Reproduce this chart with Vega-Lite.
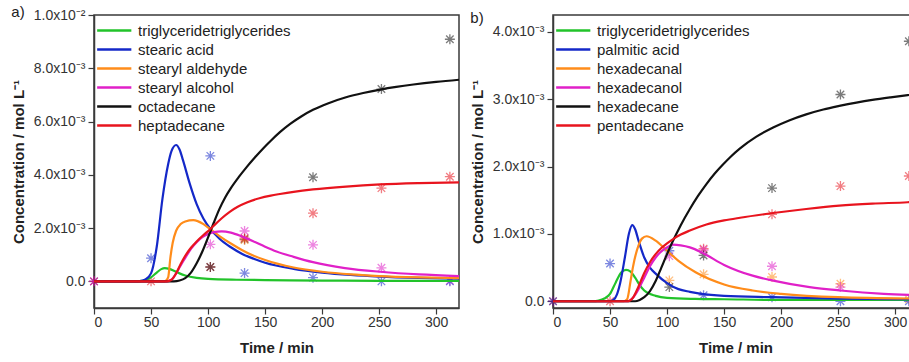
{
  "$schema": "https://vega.github.io/schema/vega-lite/v6.json",
  "padding": {"left": 10, "top": 4, "right": 0, "bottom": 0},
  "background": "white",
  "config": {
    "font": "Liberation Sans",
    "view": {"stroke": "#3a3a3a", "strokeWidth": 1.5},
    "axis": {
      "grid": false,
      "domainColor": "#3a3a3a",
      "domainWidth": 1.5,
      "tickColor": "#3a3a3a",
      "tickWidth": 1.2,
      "labelFont": "Liberation Sans",
      "titleFont": "Liberation Sans",
      "labelFontSize": 14,
      "labelColor": "#333333",
      "labelPadding": 3,
      "titleFontSize": 15,
      "titleFontWeight": "bold",
      "titleColor": "#222222"
    },
    "title": {"font": "Liberation Sans", "fontSize": 15, "fontWeight": "normal", "color": "#222222"}
  },
  "datasets": {
    "curvesA": [
      {"series": "triglyceridetriglycerides", "t": 0, "c": 0},
      {"series": "triglyceridetriglycerides", "t": 30, "c": 0},
      {"series": "triglyceridetriglycerides", "t": 40, "c": 1e-5},
      {"series": "triglyceridetriglycerides", "t": 45, "c": 5e-5},
      {"series": "triglyceridetriglycerides", "t": 50, "c": 1.5e-4},
      {"series": "triglyceridetriglycerides", "t": 55, "c": 3.3e-4},
      {"series": "triglyceridetriglycerides", "t": 59, "c": 4.6e-4},
      {"series": "triglyceridetriglycerides", "t": 62, "c": 5.0e-4},
      {"series": "triglyceridetriglycerides", "t": 66, "c": 4.7e-4},
      {"series": "triglyceridetriglycerides", "t": 70, "c": 4.0e-4},
      {"series": "triglyceridetriglycerides", "t": 75, "c": 3.0e-4},
      {"series": "triglyceridetriglycerides", "t": 80, "c": 2.2e-4},
      {"series": "triglyceridetriglycerides", "t": 90, "c": 1.3e-4},
      {"series": "triglyceridetriglycerides", "t": 100, "c": 9e-5},
      {"series": "triglyceridetriglycerides", "t": 125, "c": 6e-5},
      {"series": "triglyceridetriglycerides", "t": 150, "c": 5e-5},
      {"series": "triglyceridetriglycerides", "t": 200, "c": 3e-5},
      {"series": "triglyceridetriglycerides", "t": 250, "c": 2e-5},
      {"series": "triglyceridetriglycerides", "t": 320, "c": 2e-5},

      {"series": "stearic acid", "t": 0, "c": 0},
      {"series": "stearic acid", "t": 35, "c": 0},
      {"series": "stearic acid", "t": 40, "c": 1e-5},
      {"series": "stearic acid", "t": 45, "c": 7e-5},
      {"series": "stearic acid", "t": 50, "c": 3.0e-4},
      {"series": "stearic acid", "t": 55, "c": 1.3e-3},
      {"series": "stearic acid", "t": 60, "c": 3.1e-3},
      {"series": "stearic acid", "t": 65, "c": 4.4e-3},
      {"series": "stearic acid", "t": 68, "c": 4.9e-3},
      {"series": "stearic acid", "t": 72, "c": 5.12e-3},
      {"series": "stearic acid", "t": 75, "c": 4.95e-3},
      {"series": "stearic acid", "t": 78, "c": 4.55e-3},
      {"series": "stearic acid", "t": 84, "c": 3.66e-3},
      {"series": "stearic acid", "t": 90, "c": 2.9e-3},
      {"series": "stearic acid", "t": 96, "c": 2.35e-3},
      {"series": "stearic acid", "t": 102, "c": 1.97e-3},
      {"series": "stearic acid", "t": 110, "c": 1.6e-3},
      {"series": "stearic acid", "t": 120, "c": 1.28e-3},
      {"series": "stearic acid", "t": 130, "c": 1.03e-3},
      {"series": "stearic acid", "t": 140, "c": 8.5e-4},
      {"series": "stearic acid", "t": 150, "c": 7.0e-4},
      {"series": "stearic acid", "t": 175, "c": 4.7e-4},
      {"series": "stearic acid", "t": 200, "c": 3.3e-4},
      {"series": "stearic acid", "t": 225, "c": 2.4e-4},
      {"series": "stearic acid", "t": 250, "c": 1.8e-4},
      {"series": "stearic acid", "t": 285, "c": 1.3e-4},
      {"series": "stearic acid", "t": 320, "c": 1.0e-4},

      {"series": "stearyl aldehyde", "t": 0, "c": 0},
      {"series": "stearyl aldehyde", "t": 62, "c": 0},
      {"series": "stearyl aldehyde", "t": 65, "c": 1.5e-4},
      {"series": "stearyl aldehyde", "t": 67, "c": 9e-4},
      {"series": "stearyl aldehyde", "t": 69, "c": 1.45e-3},
      {"series": "stearyl aldehyde", "t": 72, "c": 1.9e-3},
      {"series": "stearyl aldehyde", "t": 76, "c": 2.15e-3},
      {"series": "stearyl aldehyde", "t": 80, "c": 2.25e-3},
      {"series": "stearyl aldehyde", "t": 87, "c": 2.3e-3},
      {"series": "stearyl aldehyde", "t": 96, "c": 2.15e-3},
      {"series": "stearyl aldehyde", "t": 103, "c": 1.92e-3},
      {"series": "stearyl aldehyde", "t": 110, "c": 1.7e-3},
      {"series": "stearyl aldehyde", "t": 120, "c": 1.42e-3},
      {"series": "stearyl aldehyde", "t": 130, "c": 1.17e-3},
      {"series": "stearyl aldehyde", "t": 140, "c": 9.6e-4},
      {"series": "stearyl aldehyde", "t": 150, "c": 8.0e-4},
      {"series": "stearyl aldehyde", "t": 175, "c": 5.2e-4},
      {"series": "stearyl aldehyde", "t": 200, "c": 3.6e-4},
      {"series": "stearyl aldehyde", "t": 225, "c": 2.6e-4},
      {"series": "stearyl aldehyde", "t": 250, "c": 2.0e-4},
      {"series": "stearyl aldehyde", "t": 285, "c": 1.5e-4},
      {"series": "stearyl aldehyde", "t": 320, "c": 1.2e-4},

      {"series": "stearyl alcohol", "t": 0, "c": 0},
      {"series": "stearyl alcohol", "t": 64, "c": 0},
      {"series": "stearyl alcohol", "t": 68, "c": 6e-5},
      {"series": "stearyl alcohol", "t": 72, "c": 3.0e-4},
      {"series": "stearyl alcohol", "t": 76, "c": 6.0e-4},
      {"series": "stearyl alcohol", "t": 80, "c": 8.8e-4},
      {"series": "stearyl alcohol", "t": 85, "c": 1.22e-3},
      {"series": "stearyl alcohol", "t": 90, "c": 1.47e-3},
      {"series": "stearyl alcohol", "t": 95, "c": 1.66e-3},
      {"series": "stearyl alcohol", "t": 100, "c": 1.78e-3},
      {"series": "stearyl alcohol", "t": 105, "c": 1.85e-3},
      {"series": "stearyl alcohol", "t": 112, "c": 1.88e-3},
      {"series": "stearyl alcohol", "t": 120, "c": 1.83e-3},
      {"series": "stearyl alcohol", "t": 130, "c": 1.68e-3},
      {"series": "stearyl alcohol", "t": 140, "c": 1.5e-3},
      {"series": "stearyl alcohol", "t": 150, "c": 1.3e-3},
      {"series": "stearyl alcohol", "t": 160, "c": 1.12e-3},
      {"series": "stearyl alcohol", "t": 175, "c": 9.2e-4},
      {"series": "stearyl alcohol", "t": 192, "c": 7.2e-4},
      {"series": "stearyl alcohol", "t": 220, "c": 5.0e-4},
      {"series": "stearyl alcohol", "t": 251, "c": 3.6e-4},
      {"series": "stearyl alcohol", "t": 285, "c": 2.6e-4},
      {"series": "stearyl alcohol", "t": 320, "c": 2.0e-4},

      {"series": "octadecane", "t": 0, "c": 0},
      {"series": "octadecane", "t": 70, "c": 0},
      {"series": "octadecane", "t": 75, "c": 3e-5},
      {"series": "octadecane", "t": 80, "c": 1.2e-4},
      {"series": "octadecane", "t": 85, "c": 3.3e-4},
      {"series": "octadecane", "t": 90, "c": 6.8e-4},
      {"series": "octadecane", "t": 95, "c": 1.12e-3},
      {"series": "octadecane", "t": 100, "c": 1.65e-3},
      {"series": "octadecane", "t": 105, "c": 2.2e-3},
      {"series": "octadecane", "t": 110, "c": 2.72e-3},
      {"series": "octadecane", "t": 115, "c": 3.15e-3},
      {"series": "octadecane", "t": 120, "c": 3.5e-3},
      {"series": "octadecane", "t": 127, "c": 3.92e-3},
      {"series": "octadecane", "t": 134, "c": 4.3e-3},
      {"series": "octadecane", "t": 141, "c": 4.65e-3},
      {"series": "octadecane", "t": 148.5, "c": 5.0e-3},
      {"series": "octadecane", "t": 155, "c": 5.28e-3},
      {"series": "octadecane", "t": 163, "c": 5.6e-3},
      {"series": "octadecane", "t": 172, "c": 5.91e-3},
      {"series": "octadecane", "t": 182, "c": 6.2e-3},
      {"series": "octadecane", "t": 192, "c": 6.44e-3},
      {"series": "octadecane", "t": 205, "c": 6.68e-3},
      {"series": "octadecane", "t": 221, "c": 6.91e-3},
      {"series": "octadecane", "t": 236, "c": 7.07e-3},
      {"series": "octadecane", "t": 251, "c": 7.2e-3},
      {"series": "octadecane", "t": 265, "c": 7.3e-3},
      {"series": "octadecane", "t": 280, "c": 7.39e-3},
      {"series": "octadecane", "t": 300, "c": 7.49e-3},
      {"series": "octadecane", "t": 320, "c": 7.57e-3},

      {"series": "heptadecane", "t": 0, "c": 0},
      {"series": "heptadecane", "t": 64, "c": 0},
      {"series": "heptadecane", "t": 68, "c": 6e-5},
      {"series": "heptadecane", "t": 72, "c": 3.0e-4},
      {"series": "heptadecane", "t": 76, "c": 6.5e-4},
      {"series": "heptadecane", "t": 80, "c": 9.6e-4},
      {"series": "heptadecane", "t": 85, "c": 1.26e-3},
      {"series": "heptadecane", "t": 90, "c": 1.5e-3},
      {"series": "heptadecane", "t": 96, "c": 1.74e-3},
      {"series": "heptadecane", "t": 102, "c": 1.96e-3},
      {"series": "heptadecane", "t": 106, "c": 2.13e-3},
      {"series": "heptadecane", "t": 112, "c": 2.37e-3},
      {"series": "heptadecane", "t": 119, "c": 2.61e-3},
      {"series": "heptadecane", "t": 126, "c": 2.8e-3},
      {"series": "heptadecane", "t": 134, "c": 2.96e-3},
      {"series": "heptadecane", "t": 145, "c": 3.12e-3},
      {"series": "heptadecane", "t": 155, "c": 3.22e-3},
      {"series": "heptadecane", "t": 163, "c": 3.28e-3},
      {"series": "heptadecane", "t": 175, "c": 3.36e-3},
      {"series": "heptadecane", "t": 192, "c": 3.45e-3},
      {"series": "heptadecane", "t": 221, "c": 3.56e-3},
      {"series": "heptadecane", "t": 251, "c": 3.64e-3},
      {"series": "heptadecane", "t": 285, "c": 3.69e-3},
      {"series": "heptadecane", "t": 320, "c": 3.72e-3}
    ],
    "pointsA": [
      {"series": "stearic acid", "t": 0, "c": 0},
      {"series": "heptadecane", "t": 0, "c": 0},
      {"series": "stearyl alcohol", "t": 0, "c": 0},
      {"series": "stearic acid", "t": 50, "c": 8.7e-4},
      {"series": "heptadecane", "t": 50, "c": 0},
      {"series": "stearic acid", "t": 102, "c": 4.71e-3},
      {"series": "stearyl alcohol", "t": 102, "c": 1.39e-3},
      {"series": "heptadecane", "t": 102, "c": 5.4e-4},
      {"series": "octadecane", "t": 102, "c": 5.4e-4},
      {"series": "stearyl alcohol", "t": 132, "c": 1.89e-3},
      {"series": "octadecane", "t": 132, "c": 1.58e-3},
      {"series": "stearyl aldehyde", "t": 132, "c": 1.55e-3},
      {"series": "heptadecane", "t": 132, "c": 1.62e-3},
      {"series": "stearic acid", "t": 132, "c": 3.1e-4},
      {"series": "octadecane", "t": 192, "c": 3.91e-3},
      {"series": "heptadecane", "t": 192, "c": 2.56e-3},
      {"series": "stearyl alcohol", "t": 192, "c": 1.37e-3},
      {"series": "stearic acid", "t": 192, "c": 1.4e-4},
      {"series": "octadecane", "t": 252, "c": 7.22e-3},
      {"series": "heptadecane", "t": 252, "c": 3.5e-3},
      {"series": "stearyl alcohol", "t": 252, "c": 5.1e-4},
      {"series": "stearic acid", "t": 252, "c": 0},
      {"series": "octadecane", "t": 312, "c": 9.09e-3},
      {"series": "heptadecane", "t": 312, "c": 3.93e-3},
      {"series": "stearyl alcohol", "t": 312, "c": 2e-5},
      {"series": "stearic acid", "t": 312, "c": 0}
    ],
    "curvesB": [
      {"series": "triglyceridetriglycerides", "t": 0, "c": 0},
      {"series": "triglyceridetriglycerides", "t": 35, "c": 0},
      {"series": "triglyceridetriglycerides", "t": 40, "c": 1e-5},
      {"series": "triglyceridetriglycerides", "t": 45, "c": 4e-5},
      {"series": "triglyceridetriglycerides", "t": 50, "c": 1.1e-4},
      {"series": "triglyceridetriglycerides", "t": 55, "c": 2.8e-4},
      {"series": "triglyceridetriglycerides", "t": 60, "c": 4.3e-4},
      {"series": "triglyceridetriglycerides", "t": 64, "c": 4.65e-4},
      {"series": "triglyceridetriglycerides", "t": 68, "c": 4.4e-4},
      {"series": "triglyceridetriglycerides", "t": 72, "c": 3.5e-4},
      {"series": "triglyceridetriglycerides", "t": 76, "c": 2.4e-4},
      {"series": "triglyceridetriglycerides", "t": 80, "c": 1.6e-4},
      {"series": "triglyceridetriglycerides", "t": 90, "c": 8e-5},
      {"series": "triglyceridetriglycerides", "t": 100, "c": 5e-5},
      {"series": "triglyceridetriglycerides", "t": 125, "c": 3.5e-5},
      {"series": "triglyceridetriglycerides", "t": 150, "c": 3e-5},
      {"series": "triglyceridetriglycerides", "t": 200, "c": 2e-5},
      {"series": "triglyceridetriglycerides", "t": 250, "c": 2e-5},
      {"series": "triglyceridetriglycerides", "t": 320, "c": 2e-5},

      {"series": "palmitic acid", "t": 0, "c": 0},
      {"series": "palmitic acid", "t": 50, "c": 0},
      {"series": "palmitic acid", "t": 53, "c": 2e-5},
      {"series": "palmitic acid", "t": 56, "c": 1.0e-4},
      {"series": "palmitic acid", "t": 59, "c": 2.8e-4},
      {"series": "palmitic acid", "t": 63, "c": 6.5e-4},
      {"series": "palmitic acid", "t": 66.5, "c": 1.0e-3},
      {"series": "palmitic acid", "t": 69.5, "c": 1.13e-3},
      {"series": "palmitic acid", "t": 72, "c": 1.07e-3},
      {"series": "palmitic acid", "t": 75, "c": 9.0e-4},
      {"series": "palmitic acid", "t": 80, "c": 6.5e-4},
      {"series": "palmitic acid", "t": 85, "c": 5.0e-4},
      {"series": "palmitic acid", "t": 90, "c": 4.1e-4},
      {"series": "palmitic acid", "t": 100, "c": 2.7e-4},
      {"series": "palmitic acid", "t": 110, "c": 1.8e-4},
      {"series": "palmitic acid", "t": 120, "c": 1.4e-4},
      {"series": "palmitic acid", "t": 130, "c": 1.1e-4},
      {"series": "palmitic acid", "t": 150, "c": 8e-5},
      {"series": "palmitic acid", "t": 192, "c": 6e-5},
      {"series": "palmitic acid", "t": 250, "c": 4e-5},
      {"series": "palmitic acid", "t": 320, "c": 3e-5},

      {"series": "hexadecanal", "t": 0, "c": 0},
      {"series": "hexadecanal", "t": 62, "c": 0},
      {"series": "hexadecanal", "t": 65, "c": 3e-5},
      {"series": "hexadecanal", "t": 68, "c": 3.0e-4},
      {"series": "hexadecanal", "t": 70, "c": 5.0e-4},
      {"series": "hexadecanal", "t": 75, "c": 8.3e-4},
      {"series": "hexadecanal", "t": 78, "c": 9.3e-4},
      {"series": "hexadecanal", "t": 82, "c": 9.65e-4},
      {"series": "hexadecanal", "t": 90, "c": 9.0e-4},
      {"series": "hexadecanal", "t": 100, "c": 7.5e-4},
      {"series": "hexadecanal", "t": 110, "c": 6.0e-4},
      {"series": "hexadecanal", "t": 125, "c": 4.3e-4},
      {"series": "hexadecanal", "t": 150, "c": 2.5e-4},
      {"series": "hexadecanal", "t": 175, "c": 1.6e-4},
      {"series": "hexadecanal", "t": 200, "c": 1.1e-4},
      {"series": "hexadecanal", "t": 250, "c": 6e-5},
      {"series": "hexadecanal", "t": 320, "c": 4e-5},

      {"series": "hexadecanol", "t": 0, "c": 0},
      {"series": "hexadecanol", "t": 66, "c": 0},
      {"series": "hexadecanol", "t": 70, "c": 5e-5},
      {"series": "hexadecanol", "t": 75, "c": 1.8e-4},
      {"series": "hexadecanol", "t": 80, "c": 3.5e-4},
      {"series": "hexadecanol", "t": 85, "c": 5.2e-4},
      {"series": "hexadecanol", "t": 90, "c": 6.5e-4},
      {"series": "hexadecanol", "t": 95, "c": 7.4e-4},
      {"series": "hexadecanol", "t": 100, "c": 8.0e-4},
      {"series": "hexadecanol", "t": 105, "c": 8.4e-4},
      {"series": "hexadecanol", "t": 112, "c": 8.3e-4},
      {"series": "hexadecanol", "t": 120, "c": 8.0e-4},
      {"series": "hexadecanol", "t": 132, "c": 7.1e-4},
      {"series": "hexadecanol", "t": 150, "c": 5.4e-4},
      {"series": "hexadecanol", "t": 175, "c": 3.8e-4},
      {"series": "hexadecanol", "t": 192, "c": 3.1e-4},
      {"series": "hexadecanol", "t": 225, "c": 2.1e-4},
      {"series": "hexadecanol", "t": 252, "c": 1.6e-4},
      {"series": "hexadecanol", "t": 290, "c": 1.1e-4},
      {"series": "hexadecanol", "t": 320, "c": 9e-5},

      {"series": "hexadecane", "t": 0, "c": 0},
      {"series": "hexadecane", "t": 72, "c": 0},
      {"series": "hexadecane", "t": 76, "c": 2e-5},
      {"series": "hexadecane", "t": 80, "c": 6e-5},
      {"series": "hexadecane", "t": 85, "c": 1.5e-4},
      {"series": "hexadecane", "t": 90, "c": 3.0e-4},
      {"series": "hexadecane", "t": 95, "c": 5.0e-4},
      {"series": "hexadecane", "t": 100, "c": 7.0e-4},
      {"series": "hexadecane", "t": 105, "c": 8.9e-4},
      {"series": "hexadecane", "t": 112, "c": 1.13e-3},
      {"series": "hexadecane", "t": 120, "c": 1.37e-3},
      {"series": "hexadecane", "t": 127, "c": 1.56e-3},
      {"series": "hexadecane", "t": 134.5, "c": 1.74e-3},
      {"series": "hexadecane", "t": 142, "c": 1.9e-3},
      {"series": "hexadecane", "t": 149, "c": 2.03e-3},
      {"series": "hexadecane", "t": 156, "c": 2.15e-3},
      {"series": "hexadecane", "t": 164, "c": 2.27e-3},
      {"series": "hexadecane", "t": 178, "c": 2.44e-3},
      {"series": "hexadecane", "t": 193, "c": 2.58e-3},
      {"series": "hexadecane", "t": 207, "c": 2.685e-3},
      {"series": "hexadecane", "t": 222, "c": 2.775e-3},
      {"series": "hexadecane", "t": 237, "c": 2.847e-3},
      {"series": "hexadecane", "t": 251, "c": 2.9e-3},
      {"series": "hexadecane", "t": 266, "c": 2.95e-3},
      {"series": "hexadecane", "t": 280, "c": 2.99e-3},
      {"series": "hexadecane", "t": 296, "c": 3.028e-3},
      {"series": "hexadecane", "t": 311, "c": 3.06e-3},
      {"series": "hexadecane", "t": 320, "c": 3.077e-3},

      {"series": "pentadecane", "t": 0, "c": 0},
      {"series": "pentadecane", "t": 66, "c": 0},
      {"series": "pentadecane", "t": 70, "c": 5e-5},
      {"series": "pentadecane", "t": 75, "c": 2.2e-4},
      {"series": "pentadecane", "t": 80, "c": 4.2e-4},
      {"series": "pentadecane", "t": 85, "c": 5.8e-4},
      {"series": "pentadecane", "t": 90, "c": 7.0e-4},
      {"series": "pentadecane", "t": 95, "c": 7.9e-4},
      {"series": "pentadecane", "t": 100, "c": 8.6e-4},
      {"series": "pentadecane", "t": 105, "c": 9.2e-4},
      {"series": "pentadecane", "t": 112, "c": 9.9e-4},
      {"series": "pentadecane", "t": 120, "c": 1.05e-3},
      {"series": "pentadecane", "t": 134.5, "c": 1.14e-3},
      {"series": "pentadecane", "t": 150, "c": 1.2e-3},
      {"series": "pentadecane", "t": 164, "c": 1.24e-3},
      {"series": "pentadecane", "t": 193, "c": 1.31e-3},
      {"series": "pentadecane", "t": 222, "c": 1.37e-3},
      {"series": "pentadecane", "t": 251, "c": 1.42e-3},
      {"series": "pentadecane", "t": 280, "c": 1.45e-3},
      {"series": "pentadecane", "t": 311, "c": 1.47e-3},
      {"series": "pentadecane", "t": 320, "c": 1.48e-3}
    ],
    "pointsB": [
      {"series": "pentadecane", "t": 0, "c": 0},
      {"series": "palmitic acid", "t": 0, "c": 0},
      {"series": "palmitic acid", "t": 50, "c": 5.6e-4},
      {"series": "pentadecane", "t": 50, "c": 0},
      {"series": "palmitic acid", "t": 102, "c": 7.5e-4},
      {"series": "hexadecanol", "t": 102, "c": 6.7e-4},
      {"series": "hexadecanal", "t": 102, "c": 3.1e-4},
      {"series": "hexadecane", "t": 102, "c": 2.1e-4},
      {"series": "pentadecane", "t": 132, "c": 7.8e-4},
      {"series": "hexadecanol", "t": 132, "c": 7.6e-4},
      {"series": "hexadecane", "t": 132, "c": 6.8e-4},
      {"series": "hexadecanal", "t": 132, "c": 4.0e-4},
      {"series": "palmitic acid", "t": 132, "c": 9e-5},
      {"series": "hexadecane", "t": 192, "c": 1.68e-3},
      {"series": "pentadecane", "t": 192, "c": 1.29e-3},
      {"series": "hexadecanol", "t": 192, "c": 5.2e-4},
      {"series": "hexadecanal", "t": 192, "c": 3.6e-4},
      {"series": "palmitic acid", "t": 192, "c": 6e-5},
      {"series": "hexadecane", "t": 252, "c": 3.07e-3},
      {"series": "pentadecane", "t": 252, "c": 1.71e-3},
      {"series": "hexadecanal", "t": 252, "c": 2.6e-4},
      {"series": "hexadecanol", "t": 252, "c": 2.1e-4},
      {"series": "palmitic acid", "t": 252, "c": 0},
      {"series": "hexadecane", "t": 312, "c": 3.86e-3},
      {"series": "pentadecane", "t": 312, "c": 1.86e-3},
      {"series": "hexadecanal", "t": 312, "c": 3e-5},
      {"series": "palmitic acid", "t": 312, "c": 0}
    ]
  },
  "spacing": 4,
  "resolve": {
    "scale": {"x": "independent", "y": "independent", "color": "independent"},
    "legend": {"color": "independent"}
  },
  "hconcat": [
    {
      "width": 365,
      "height": 293,
      "title": {"text": "a)", "anchor": "start", "frame": "bounds", "offset": -12},
      "resolve": {"scale": {"color": "independent"}, "legend": {"color": "independent"}},
      "layer": [
        {
          "data": {"name": "pointsA"},
          "mark": {"type": "point", "shape": "M-1,0L1,0M0,-1L0,1M-0.75,-0.75L0.75,0.75M-0.75,0.75L0.75,-0.75", "size": 100, "filled": false, "strokeWidth": 1.3, "opacity": 0.55},
          "encoding": {
            "x": {"field": "t", "type": "quantitative", "scale": {"domain": [0, 320], "nice": false, "zero": false}},
            "y": {"field": "c", "type": "quantitative", "scale": {"domain": [-0.001, 0.01], "nice": false, "zero": false}},
            "color": {"field": "series", "type": "nominal", "legend": null,
              "scale": {"domain": ["triglyceridetriglycerides", "stearic acid", "stearyl aldehyde", "stearyl alcohol", "octadecane", "heptadecane"],
                        "range": ["#22c32a", "#1428c8", "#ff8c1a", "#e020c8", "#111111", "#e8141e"]}}
          }
        },
        {
          "data": {"name": "curvesA"},
          "mark": {"type": "line", "interpolate": "monotone", "strokeWidth": 2.2},
          "encoding": {
            "x": {"field": "t", "type": "quantitative", "scale": {"domain": [0, 320], "nice": false, "zero": false},
              "axis": {"title": "Time / min", "values": [0, 25, 50, 75, 100, 125, 150, 175, 200, 225, 250, 275, 300],
                "labelExpr": "datum.value % 50 === 0 ? datum.label : ''",
                "tickSize": {"condition": {"test": "datum.value % 50 !== 0", "value": 3}, "value": 6},
                "labelPadding": 1, "titlePadding": 11}},
            "y": {"field": "c", "type": "quantitative", "scale": {"domain": [-0.001, 0.01], "nice": false, "zero": false},
              "axis": {"title": "Concentration / mol L⁻¹", "values": [0, 0.001, 0.002, 0.003, 0.004, 0.005, 0.006, 0.007, 0.008, 0.009, 0.01],
                "labelExpr": "round(datum.value*1000) % 2 !== 0 ? '' : (datum.value === 0 ? '0.0' : (round(datum.value*1000) === 10 ? '1.0x10⁻²' : format(datum.value*1000, '.1f') + 'x10⁻³'))",
                "tickSize": {"condition": {"test": "round(datum.value*1000) % 2 !== 0", "value": 3}, "value": 6},
                "titlePadding": 7}},
            "color": {"field": "series", "type": "nominal",
              "scale": {"domain": ["triglyceridetriglycerides", "stearic acid", "stearyl aldehyde", "stearyl alcohol", "octadecane", "heptadecane"],
                        "range": ["#22c32a", "#1428c8", "#ff8c1a", "#e020c8", "#111111", "#e8141e"]},
              "legend": {"title": null, "orient": "top-left", "offset": 0, "padding": 4.5, "rowPadding": 0,
                "symbolType": "M-1.3,0L2.3,0", "symbolSize": 361, "symbolStrokeWidth": 2.5,
                "labelFont": "Liberation Sans", "labelFontSize": 15, "labelColor": "#222222", "labelOffset": 17.5, "labelLimit": 400}}
          }
        }
      ]
    },
    {
      "width": 365,
      "height": 293,
      "title": {"text": "b)", "anchor": "start", "frame": "bounds", "offset": -11},
      "resolve": {"scale": {"color": "independent"}, "legend": {"color": "independent"}},
      "layer": [
        {
          "data": {"name": "pointsB"},
          "mark": {"type": "point", "shape": "M-1,0L1,0M0,-1L0,1M-0.75,-0.75L0.75,0.75M-0.75,0.75L0.75,-0.75", "size": 100, "filled": false, "strokeWidth": 1.3, "opacity": 0.55},
          "encoding": {
            "x": {"field": "t", "type": "quantitative", "scale": {"domain": [0, 320], "nice": false, "zero": false}},
            "y": {"field": "c", "type": "quantitative", "scale": {"domain": [-0.0001, 0.00425], "nice": false, "zero": false}},
            "color": {"field": "series", "type": "nominal", "legend": null,
              "scale": {"domain": ["triglyceridetriglycerides", "palmitic acid", "hexadecanal", "hexadecanol", "hexadecane", "pentadecane"],
                        "range": ["#22c32a", "#1428c8", "#ff8c1a", "#e020c8", "#111111", "#e8141e"]}}
          }
        },
        {
          "data": {"name": "curvesB"},
          "mark": {"type": "line", "interpolate": "monotone", "strokeWidth": 2.2},
          "encoding": {
            "x": {"field": "t", "type": "quantitative", "scale": {"domain": [0, 320], "nice": false, "zero": false},
              "axis": {"title": "Time / min", "values": [0, 25, 50, 75, 100, 125, 150, 175, 200, 225, 250, 275, 300],
                "labelExpr": "datum.value % 50 === 0 ? datum.label : ''",
                "tickSize": {"condition": {"test": "datum.value % 50 !== 0", "value": 3}, "value": 6},
                "labelPadding": 1, "titlePadding": 11}},
            "y": {"field": "c", "type": "quantitative", "scale": {"domain": [-0.0001, 0.00425], "nice": false, "zero": false},
              "axis": {"title": "Concentration / mol L⁻¹", "values": [0, 0.0005, 0.001, 0.0015, 0.002, 0.0025, 0.003, 0.0035, 0.004],
                "labelExpr": "round(datum.value*2000) % 2 !== 0 ? '' : (datum.value === 0 ? '0.0' : format(datum.value*1000, '.1f') + 'x10⁻³')",
                "tickSize": {"condition": {"test": "round(datum.value*2000) % 2 !== 0", "value": 3}, "value": 6},
                "titlePadding": 7}},
            "color": {"field": "series", "type": "nominal",
              "scale": {"domain": ["triglyceridetriglycerides", "palmitic acid", "hexadecanal", "hexadecanol", "hexadecane", "pentadecane"],
                        "range": ["#22c32a", "#1428c8", "#ff8c1a", "#e020c8", "#111111", "#e8141e"]},
              "legend": {"title": null, "orient": "top-left", "offset": 0, "padding": 4.5, "rowPadding": 0,
                "symbolType": "M-1.3,0L2.3,0", "symbolSize": 361, "symbolStrokeWidth": 2.5,
                "labelFont": "Liberation Sans", "labelFontSize": 15, "labelColor": "#222222", "labelOffset": 17.5, "labelLimit": 400}}
          }
        }
      ]
    }
  ]
}
